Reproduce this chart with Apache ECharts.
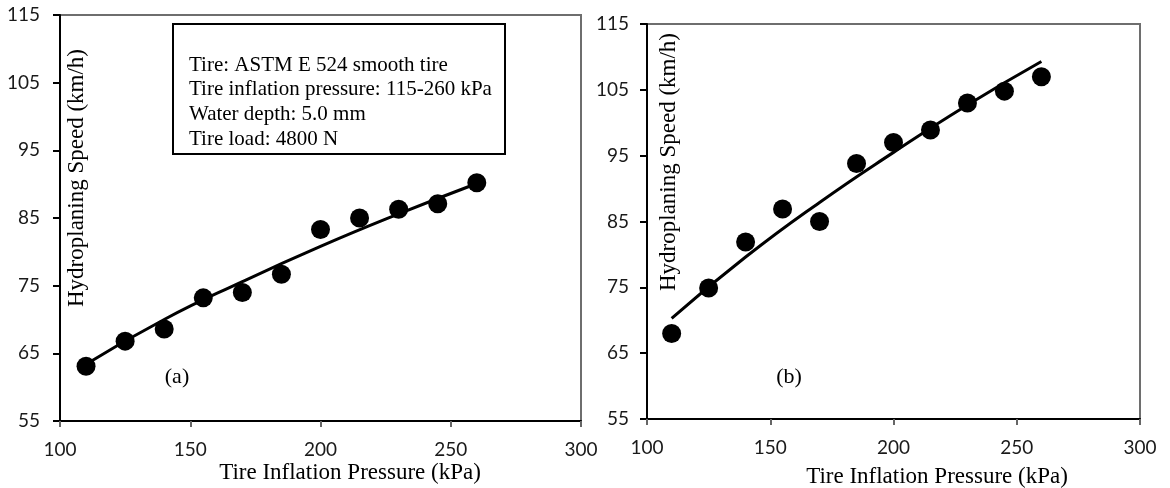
<!DOCTYPE html>
<html>
<head>
<meta charset="utf-8">
<title>Hydroplaning speed vs tire inflation pressure</title>
<script src="https://cdn.jsdelivr.net/npm/echarts@6/dist/echarts.min.js"></script>
<style>
  html, body { margin: 0; padding: 0; background: #fff; }
  #chart { width: 1170px; height: 488px; }
</style>
</head>
<body>
<div id="chart"></div>
<script>
// measured points (same pressures in both panels)
var pressure = [110, 125, 140, 155, 170, 185, 200, 215, 230, 245, 260];
var speedA = [63.1, 66.8, 68.6, 73.2, 74.0, 76.7, 83.3, 85.0, 86.3, 87.1, 90.2];
var speedB = [68.0, 74.9, 81.9, 86.9, 85.0, 93.8, 97.0, 98.9, 103.0, 104.8, 107.0];

// fitted curves
var fitX = [110, 140, 170, 200, 230, 260];
var fitA = [63.4, 70.0, 75.6, 80.8, 85.6, 90.1];
var fitB = [70.3, 79.6, 87.9, 95.5, 102.7, 109.3];

var xTicks = [100, 150, 200, 250, 300];
var yTicks = [55, 65, 75, 85, 95, 105, 115];

var infoLines = [
  'Tire: ASTM E 524 smooth tire',
  'Tire inflation pressure: 115-260 kPa',
  'Water depth: 5.0 mm',
  'Tire load: 4800 N'
];

function pairs(xs, ys) {
  return xs.map(function (x, i) { return [x, ys[i]]; });
}

var serif = '"Liberation Serif", "Times New Roman", serif';
var tickFont = { fontFamily: 'Lato', fontSize: 19, color: '#1a1a1a' };

function xAx(idx) {
  return {
    gridIndex: idx, type: 'value',
    min: xTicks[0], max: xTicks[xTicks.length - 1], interval: 50,
    axisLine: { lineStyle: { color: '#000', width: 2 } },
    axisTick: { show: true, length: 6, lineStyle: { color: '#666', width: 2 } },
    axisLabel: Object.assign({ margin: 19 }, tickFont),
    splitLine: { show: false }
  };
}
function yAx(idx, margin) {
  return {
    gridIndex: idx, type: 'value',
    min: yTicks[0], max: yTicks[yTicks.length - 1], interval: 10,
    axisLine: { show: true, lineStyle: { color: '#000', width: 2 } },
    axisTick: { show: true, length: 7, lineStyle: { color: '#000', width: 2 } },
    axisLabel: Object.assign({ margin: margin }, tickFont),
    splitLine: { show: false }
  };
}

var graphics = [
  // info box in panel (a)
  { type: 'rect', shape: { x: 173, y: 24, width: 332, height: 130 },
    style: { fill: '#fff', stroke: '#000', lineWidth: 2 }, z: 10 }
];
infoLines.forEach(function (t, i) {
  graphics.push({ type: 'text', x: 189, y: 65 + i * 24.7, z: 11,
    style: { text: t, font: '21px ' + serif, fill: '#000', verticalAlign: 'middle' } });
});
// axis titles and panel tags
graphics.push(
  { type: 'text', x: 77, y: 178, rotation: Math.PI / 2, z: 11,
    style: { text: 'Hydroplaning Speed (km/h)', font: '23px ' + serif, fill: '#000', align: 'center', verticalAlign: 'middle' } },
  { type: 'text', x: 669, y: 162, rotation: Math.PI / 2, z: 11,
    style: { text: 'Hydroplaning Speed (km/h)', font: '23px ' + serif, fill: '#000', align: 'center', verticalAlign: 'middle' } },
  { type: 'text', x: 350, y: 473, z: 11,
    style: { text: 'Tire Inflation Pressure (kPa)', font: '23px ' + serif, fill: '#000', align: 'center', verticalAlign: 'middle' } },
  { type: 'text', x: 937, y: 477, z: 11,
    style: { text: 'Tire Inflation Pressure (kPa)', font: '23px ' + serif, fill: '#000', align: 'center', verticalAlign: 'middle' } },
  { type: 'text', x: 177, y: 377, z: 11,
    style: { text: '(a)', font: '22px ' + serif, fill: '#000', align: 'center', verticalAlign: 'middle' } },
  { type: 'text', x: 789, y: 377, z: 11,
    style: { text: '(b)', font: '22px ' + serif, fill: '#000', align: 'center', verticalAlign: 'middle' } }
);

var chart = echarts.init(document.getElementById('chart'));
chart.setOption({
  animation: false,
  backgroundColor: '#fff',
  grid: [
    { left: 60, top: 15, width: 521, height: 406, show: true, borderColor: '#6e6e6e', borderWidth: 2 },
    { left: 647, top: 24, width: 493, height: 395, show: true, borderColor: '#6e6e6e', borderWidth: 2 }
  ],
  xAxis: [xAx(0), xAx(1)],
  yAxis: [yAx(0, 20), yAx(1, 18)],
  series: [
    { type: 'line', xAxisIndex: 0, yAxisIndex: 0, data: pairs(fitX, fitA), smooth: true,
      showSymbol: false, lineStyle: { color: '#000', width: 3 } },
    { type: 'scatter', xAxisIndex: 0, yAxisIndex: 0, data: pairs(pressure, speedA),
      symbolSize: 19, itemStyle: { color: '#000', opacity: 1 } },
    { type: 'line', xAxisIndex: 1, yAxisIndex: 1, data: pairs(fitX, fitB), smooth: true,
      showSymbol: false, lineStyle: { color: '#000', width: 3 } },
    { type: 'scatter', xAxisIndex: 1, yAxisIndex: 1, data: pairs(pressure, speedB),
      symbolSize: 19, itemStyle: { color: '#000', opacity: 1 } }
  ],
  graphic: graphics
});
</script>
</body>
</html>
